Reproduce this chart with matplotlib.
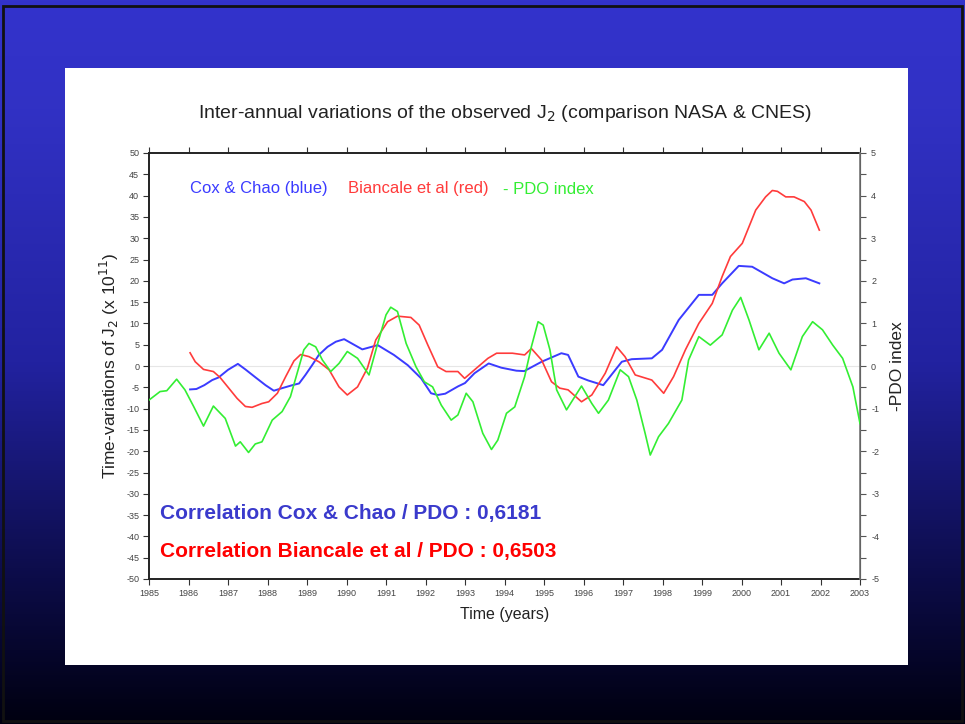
# Inter-annual J2 variations vs PDO index, slide-style figure
import numpy as np
import matplotlib
matplotlib.use("Agg")
import matplotlib.pyplot as plt
from matplotlib.colors import LinearSegmentedColormap
from matplotlib.patches import Rectangle

plt.rcParams['font.family'] = ['Liberation Sans', 'DejaVu Sans']

COLOR_BLUE  = '#3b3bff'
COLOR_RED   = '#ff3b3b'
COLOR_GREEN = '#33ee33'

# Cox & Chao (blue), J2 x 1e11
cox_years = [1986.04, 1986.2, 1986.4, 1986.6, 1986.76, 1987.0, 1987.25, 1987.44,
             1987.7, 1987.95, 1988.16, 1988.37, 1988.63, 1988.8, 1988.96, 1989.13,
             1989.3, 1989.52, 1989.73, 1989.94, 1990.4, 1990.79, 1991.2, 1991.55,
             1991.89, 1992.14, 1992.31, 1992.5, 1992.82, 1993.0, 1993.24, 1993.6,
             1993.92, 1994.3, 1994.5, 1994.94, 1995.44, 1995.61, 1995.87, 1996.12,
             1996.5, 1996.97, 1997.22, 1997.73, 1997.99, 1998.41, 1998.92, 1999.26,
             1999.51, 1999.93, 2000.27, 2000.78, 2001.08, 2001.29, 2001.63, 2001.97]
cox_vals = [-5.5, -5.4, -4.5, -3.3, -2.7, -0.9, 0.5, -0.8,
            -2.7, -4.5, -5.8, -5.2, -4.5, -4.1, -2.1, 0.2,
            2.6, 4.5, 5.7, 6.3, 3.9, 4.9, 2.6, 0.2,
            -2.9, -6.4, -6.8, -6.5, -4.8, -4.0, -1.7, 0.6,
            -0.4, -1.1, -1.2, 1.0, 3.0, 2.6, -2.5, -3.4,
            -4.5, 1.0, 1.6, 1.8, 3.8, 10.8, 16.7, 16.7,
            19.4, 23.5, 23.3, 20.6, 19.4, 20.3, 20.6, 19.4]

# Biancale et al (red), J2 x 1e11
bian_years = [1986.04, 1986.17, 1986.38, 1986.63, 1986.8, 1987.02, 1987.23, 1987.44,
              1987.61, 1987.86, 1988.03, 1988.25, 1988.46, 1988.67, 1988.84, 1989.05,
              1989.3, 1989.56, 1989.81, 1990.02, 1990.28, 1990.53, 1990.74, 1991.04,
              1991.29, 1991.63, 1991.84, 1992.06, 1992.31, 1992.52, 1992.82, 1992.99,
              1993.24, 1993.58, 1993.8, 1994.2, 1994.51, 1994.68, 1994.94, 1995.19,
              1995.4, 1995.61, 1995.95, 1996.21, 1996.55, 1996.84, 1997.05, 1997.31,
              1997.73, 1998.03, 1998.28, 1998.58, 1998.92, 1999.26, 1999.51, 1999.72,
              2000.02, 2000.36, 2000.61, 2000.78, 2000.91, 2001.12, 2001.33, 2001.59,
              2001.76, 2001.97]
bian_vals = [3.1, 1.0, -0.8, -1.3, -2.7, -5.2, -7.6, -9.5,
             -9.7, -8.8, -8.4, -6.4, -2.5, 1.2, 2.7, 2.2,
             1.0, -0.9, -4.9, -6.8, -4.9, -0.5, 6.1, 10.4,
             11.7, 11.4, 9.6, 4.9, -0.2, -1.3, -1.3, -2.9,
             -0.9, 1.8, 3.0, 3.0, 2.6, 4.1, 1.4, -3.7,
             -5.2, -5.6, -8.4, -6.8, -1.7, 4.5, 2.2, -2.1,
             -3.3, -6.4, -2.5, 3.8, 10.0, 14.7, 21.0, 25.7,
             28.8, 36.6, 39.7, 41.2, 41.0, 39.7, 39.7, 38.6,
             36.6, 31.9]

# PDO index (green), right axis
pdo_years = [1985.0, 1985.28, 1985.45, 1985.7, 1985.91, 1986.13, 1986.38, 1986.63,
             1986.93, 1987.19, 1987.31, 1987.52, 1987.69, 1987.86, 1988.12, 1988.37,
             1988.58, 1988.75, 1988.92, 1989.05, 1989.22, 1989.39, 1989.6, 1989.81,
             1990.02, 1990.28, 1990.57, 1990.79, 1991.0, 1991.12, 1991.29, 1991.51,
             1991.76, 1991.97, 1992.18, 1992.4, 1992.65, 1992.82, 1993.03, 1993.2,
             1993.45, 1993.67, 1993.83, 1994.05, 1994.26, 1994.51, 1994.68, 1994.85,
             1994.98, 1995.15, 1995.32, 1995.57, 1995.78, 1995.95, 1996.21, 1996.38,
             1996.63, 1996.93, 1997.14, 1997.35, 1997.56, 1997.69, 1997.9, 1998.15,
             1998.49, 1998.66, 1998.92, 1999.21, 1999.51, 1999.77, 1999.98, 2000.19,
             2000.44, 2000.7, 2000.95, 2001.25, 2001.54, 2001.8, 2002.05, 2002.31,
             2002.56, 2002.82, 2003.0]
pdo_vals = [-0.80, -0.60, -0.58, -0.31, -0.56, -0.95, -1.41, -0.94,
            -1.23, -1.88, -1.78, -2.03, -1.83, -1.78, -1.27, -1.07,
            -0.72, -0.17, 0.38, 0.53, 0.45, 0.14, -0.13, 0.06,
            0.34, 0.18, -0.21, 0.53, 1.20, 1.38, 1.28, 0.53,
            -0.02, -0.37, -0.49, -0.92, -1.27, -1.15, -0.64, -0.84,
            -1.58, -1.96, -1.74, -1.11, -0.96, -0.25, 0.45, 1.04,
            0.96, 0.38, -0.56, -1.03, -0.72, -0.47, -0.88, -1.11,
            -0.80, -0.09, -0.25, -0.80, -1.58, -2.09, -1.66, -1.35,
            -0.80, 0.14, 0.69, 0.49, 0.73, 1.31, 1.61, 1.08,
            0.38, 0.77, 0.30, -0.09, 0.69, 1.04, 0.85, 0.49,
            0.18, -0.49, -1.35]

year_ticks = list(range(1985, 2004))
left_ticks = list(range(-50, 51, 5))
right_ticks = list(range(-5, 6))

fig = plt.figure(figsize=(9.65, 7.24), dpi=100)

# slide background: blue to near-black gradient
bg = fig.add_axes([0, 0, 1, 1], zorder=-10)
cmap = LinearSegmentedColormap.from_list(
    'slide', [(0.0, '#3333cc'), (0.15, '#3131c4'), (0.5, '#2222a0'),
              (0.8, '#0c0c48'), (1.0, '#000010')])
grad = np.linspace(0, 1, 256).reshape(-1, 1)
bg.imshow(grad, aspect='auto', cmap=cmap, extent=[0, 1, 0, 1], origin='upper')
bg.add_patch(Rectangle((0.003, 0.004), 0.994, 0.988, fill=False, edgecolor='#111111', linewidth=2))
bg.add_patch(Rectangle((65 / 965, 1 - 665 / 724), (908 - 65) / 965, (665 - 68) / 724,
                       facecolor='white', edgecolor='none'))
bg.set_xlim(0, 1)
bg.set_ylim(0, 1)
bg.axis('off')

ax = fig.add_axes([149 / 965, 1 - 579 / 724, 711 / 965, 426 / 724])
ax.set_facecolor('none')

ax.axhline(0, color='#e6e6e6', linewidth=0.8, zorder=1)
ax.plot(cox_years, cox_vals, color=COLOR_BLUE, linewidth=1.4, zorder=3)
ax.plot(bian_years, bian_vals, color=COLOR_RED, linewidth=1.2, zorder=3)

ax.set_xlim(1985, 2003)
ax.set_ylim(-50, 50)
ax.set_xticks(year_ticks)
ax.set_xticklabels([str(y) for y in year_ticks], fontsize=6.5, color='#444444')
ax.set_yticks(left_ticks)
ax.set_yticklabels([str(v) for v in left_ticks], fontsize=6.5, color='#444444')
ax.tick_params(axis='both', direction='out', length=4, width=0.8, color='#333333', pad=3)
ax.tick_params(axis='x', top=True, labeltop=False)
for side in ['left', 'bottom', 'top']:
    ax.spines[side].set_linewidth(1.4)
    ax.spines[side].set_color('#222222')

ax2 = ax.twinx()
ax2.plot(pdo_years, pdo_vals, color=COLOR_GREEN, linewidth=1.2, zorder=3)
ax2.set_ylim(-5, 5)
ax2.set_yticks(right_ticks)
ax2.set_yticklabels([str(v) for v in right_ticks], fontsize=6.5, color='#444444')
ax2.set_yticks(np.arange(-4.5, 5, 1.0), minor=True)
ax2.tick_params(axis='y', which='both', direction='out', length=4, width=0.8,
                color='#555555', pad=4)
ax2.spines['right'].set_color('#777777')
ax2.spines['right'].set_linewidth(1.2)
for side in ['left', 'bottom', 'top']:
    ax2.spines[side].set_visible(False)

ax.set_xlabel('Time (years)', fontsize=11.5, color='#222222', labelpad=7)
ax.set_ylabel('Time-variations of J$_2$ (x 10$^{11}$)', fontsize=12.5, color='#222222', labelpad=4)
ax2.set_ylabel('-PDO index', fontsize=12.5, color='#222222', rotation=90, labelpad=8)

fig.text(505 / 965, 1 - 113 / 724,
         'Inter-annual variations of the observed J$_2$ (comparison NASA & CNES)',
         ha='center', va='center', fontsize=14, color='#222222')

fig.text(190 / 965, 1 - 189 / 724, 'Cox & Chao (blue)', color=COLOR_BLUE,
         fontsize=12, va='center')
fig.text(348 / 965, 1 - 189 / 724, 'Biancale et al (red)', color=COLOR_RED,
         fontsize=12, va='center')
fig.text(503 / 965, 1 - 189 / 724, '- PDO index', color=COLOR_GREEN,
         fontsize=12, va='center')

fig.text(160 / 965, 1 - 514 / 724, 'Correlation Cox & Chao / PDO : 0,6181',
         color='#3a3acc', fontsize=15, fontweight='bold', va='center')
fig.text(160 / 965, 1 - 552 / 724, 'Correlation Biancale et al / PDO : 0,6503',
         color='#ff0000', fontsize=15, fontweight='bold', va='center')

fig.savefig('out.png', dpi=100)
